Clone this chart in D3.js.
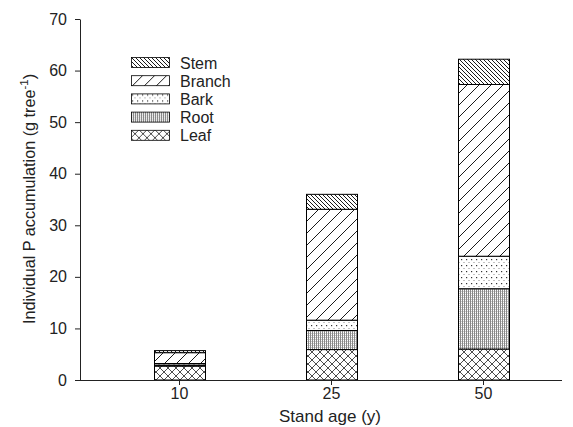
<!DOCTYPE html>
<html><head><meta charset="utf-8">
<script src="https://cdn.jsdelivr.net/npm/d3@7"></script>
<style>body{margin:0;background:#fff;} svg{display:block;font-family:"Liberation Sans",Arial,sans-serif;}</style>
</head><body><svg id="c" width="573" height="427"></svg>
<script>
const categories = ["10", "25", "50"];
const components = ["Leaf", "Root", "Bark", "Branch", "Stem"];
const leaf   = [2.7, 5.9, 6.0];
const root   = [0.2, 3.7, 11.7];
const bark   = [0.3, 2.0, 6.3];
const branch = [2.1, 21.5, 33.3];
const stem   = [0.4, 2.9, 4.9];
const yTicks = [0, 10, 20, 30, 40, 50, 60, 70];
const legendOrder = ["Stem", "Branch", "Bark", "Root", "Leaf"];

const series = {Leaf: leaf, Root: root, Bark: bark, Branch: branch, Stem: stem};
const rows = categories.map((c, i) => {
  const r = {cat: c};
  components.forEach(k => r[k] = series[k][i]);
  return r;
});

const svg = d3.select("#c");
const m = {l: 80, r: 11, t: 19, b: 47};
const W = 573, H = 427;

// patterns
const defs = svg.append("defs");
function pat(id, w, h, draw) {
  const p = defs.append("pattern").attr("id", id).attr("patternUnits", "userSpaceOnUse")
    .attr("width", w).attr("height", h);
  p.append("rect").attr("width", w).attr("height", h).attr("fill", "#fff");
  draw(p);
}
pat("p-Stem", 4, 4, p => {
  p.append("path").attr("d", "M-1,-1L5,5M-1,3L1,5M3,-1L5,1").attr("stroke", "#000").attr("stroke-width", 0.9);
});
pat("p-Branch", 12, 12, p => {
  p.append("path").attr("d", "M-1,13L13,-1M-3,3L3,-3M9,15L15,9").attr("stroke", "#000").attr("stroke-width", 0.9);
});
pat("p-Bark", 5, 6, p => {
  p.append("rect").attr("x", 1).attr("y", 1).attr("width", 1.2).attr("height", 1.2).attr("fill", "#333");
  p.append("rect").attr("x", 3.5).attr("y", 4).attr("width", 1).attr("height", 1).attr("fill", "#888");
});
pat("p-Root", 2, 2, p => {
  p.append("rect").attr("x", 0).attr("y", 0).attr("width", 1).attr("height", 2).attr("fill", "#888");
  p.append("rect").attr("x", 1).attr("y", 1).attr("width", 1).attr("height", 1).attr("fill", "#ccc");
});
pat("p-Leaf", 8, 8, p => {
  p.append("path").attr("d", "M-1,9L9,-1M-1,1L1,-1M7,9L9,7M-1,-1L9,9M-1,7L1,9M7,-1L9,1")
    .attr("stroke", "#000").attr("stroke-width", 0.7);
});

const x = d3.scalePoint().domain(categories).range([m.l + 99, W - m.r - 79]);
const y = d3.scaleLinear().domain([0, 70]).range([H - m.b, m.t]);
const barW = 51;

const stack = d3.stack().keys(components)(rows);
const g = svg.append("g");
stack.forEach(s => {
  g.selectAll(null).data(s).join("rect")
    .attr("x", d => Math.round(x(d.data.cat) - barW / 2) + 0.5)
    .attr("y", d => y(d[1]))
    .attr("width", barW)
    .attr("height", d => y(d[0]) - y(d[1]))
    .attr("fill", `url(#p-${s.key})`)
    .attr("stroke", "#000").attr("stroke-width", 1);
});

// axes
const yAxis = svg.append("g").attr("transform", `translate(${m.l},0)`)
  .call(d3.axisLeft(y).tickValues(yTicks).tickSize(5).tickSizeOuter(0).tickPadding(8));
const xAxis = svg.append("g").attr("transform", `translate(0,${H - m.b})`)
  .call(d3.axisBottom(x).tickSize(5).tickSizeOuter(0).tickPadding(3));
xAxis.select(".domain").attr("d", `M${m.l},0.5H${W - m.r}`);
[yAxis, xAxis].forEach(a => {
  a.selectAll("text").attr("font-size", 16).attr("fill", "#222").attr("font-family", "Liberation Sans, Arial, sans-serif");
  a.selectAll("line,path").attr("stroke", "#222");
});

// titles
svg.append("text").attr("x", 330).attr("y", 422).attr("text-anchor", "middle")
  .attr("font-size", 17).attr("fill", "#222").text("Stand age (y)");
const yt = svg.append("text").attr("transform", `translate(35,199) rotate(-90)`)
  .attr("text-anchor", "middle").attr("font-size", 16.2).attr("fill", "#222");
yt.append("tspan").text("Individual P accumulation (g tree");
yt.append("tspan").attr("dy", -7).attr("font-size", 11.5).text("-1");
yt.append("tspan").attr("dy", 7).text(")");

// legend
const lg = svg.append("g").attr("transform", "translate(131,57)");
legendOrder.forEach((k, i) => {
  const r = lg.append("g").attr("transform", `translate(0,${i * 18.2})`);
  r.append("rect").attr("x", 0.5).attr("y", 0.5).attr("width", 38).attr("height", 10)
    .attr("fill", `url(#p-${k})`).attr("stroke", "#000").attr("stroke-width", 0.8);
  r.append("text").attr("x", 49).attr("y", 11.5).attr("font-size", 16).attr("fill", "#222").text(k);
});
</script></body></html>
